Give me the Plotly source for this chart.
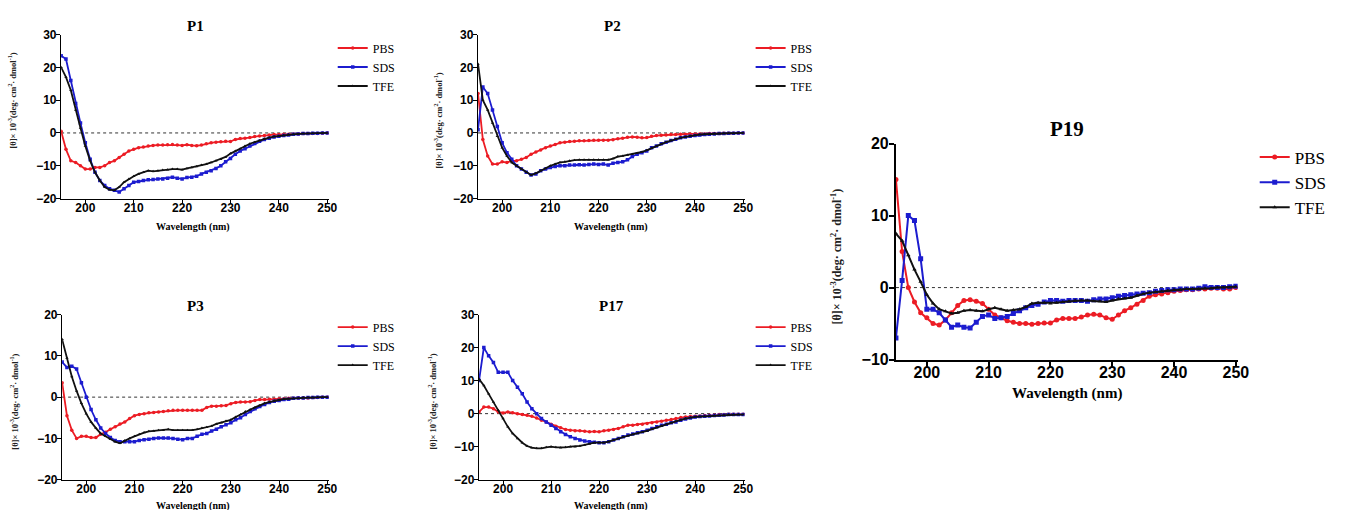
import plotly.graph_objects as go

W, H = 1355, 520
# the photographed picture maps page pixels as: pic_x = SX*x, pic_y = SY*y + DY
SX, SY, DY = 0.989, 0.967, 7.5

wavelength = list(range(195, 251))

# ---------------- P1 ----------------
p1_pbs = [0.5, -5, -8.5, -9, -10, -11, -11, -10.5, -10.5, -10, -9, -8.5, -7.5, -6.5, -5.5, -5,
          -4.5, -4.3, -4, -3.8, -3.7, -3.7, -3.6, -3.5, -3.7, -3.8, -3.6, -3.8, -3.9, -3.7, -3.3,
          -3, -2.8, -2.7, -2.5, -2.6, -2.0, -1.7, -1.6, -1.4, -1.1, -0.9, -0.8, -0.6, -0.5, -0.5,
          -0.4, -0.4, -0.3, -0.3, -0.2, -0.2, -0.2, -0.2, -0.1, 0]
p1_sds = [23.5, 22.5, 16, 9, 3, -3, -8, -12, -14.5, -16, -17, -17.5, -18, -17, -16, -15,
          -14.8, -14.5, -14.3, -14.2, -14, -14, -13.8, -13.5, -13.8, -14, -13.6, -13.5, -13.2,
          -12.5, -12, -11.5, -10.8, -10, -8.8, -7.8, -6.5, -5.5, -4.8, -4, -3.2, -2.5, -2, -1.6,
          -1.2, -1, -0.8, -0.6, -0.4, -0.3, -0.2, -0.2, -0.1, -0.1, 0, 0]
p1_tfe = [20, 17, 13, 7, 1.5, -4, -8.5, -12, -14.5, -16.5, -17.3, -17.5, -16.5, -15, -14, -13.2,
          -12.5, -12, -11.5, -11.7, -11.5, -11.3, -11.2, -11, -11, -11.2, -10.8, -10.5, -10.2,
          -9.8, -9.5, -9, -8.5, -8, -7.3, -6.3, -5.5, -4.8, -4, -3.3, -2.8, -2.3, -1.8, -1.4,
          -1.1, -0.9, -0.7, -0.5, -0.4, -0.3, -0.2, -0.2, -0.1, -0.1, 0, 0]

# ---------------- P2 ----------------
p2_pbs = [12, -2, -7, -9.5, -9.5, -8.8, -9, -8.5, -8.5, -8, -7.5, -6.5, -5.8, -5.2, -4.5, -4,
          -3.5, -3, -2.8, -2.6, -2.5, -2.4, -2.4, -2.3, -2.2, -2.2, -2.2, -2.2, -2.1, -1.8, -1.6,
          -1.3, -1.2, -1.3, -1.5, -1.4, -1.0, -0.8, -0.7, -0.6, -0.5, -0.5, -0.4, -0.4, -0.3,
          -0.3, -0.3, -0.3, -0.2, -0.2, -0.2, -0.1, -0.1, -0.1, 0, 0]
p2_sds = [1, 14, 12, 7, 2, -3, -6, -8, -10, -11, -12, -12.8, -12.5, -11.5, -11, -10.5, -10.2,
          -10, -10, -9.8, -9.8, -9.7, -9.8, -9.6, -9.5, -9.6, -9.5, -9.8, -9.2, -9.0, -8.8, -8.2,
          -7.2, -6.5, -6, -5.5, -4.5, -4, -3.3, -2.8, -2.3, -1.9, -1.5, -1.2, -1, -0.8, -0.6,
          -0.5, -0.4, -0.3, -0.2, -0.2, -0.1, -0.1, 0, 0]
p2_tfe = [21, 10, 7, 3, -1, -4.5, -7, -9, -10, -11, -12, -12.8, -12.3, -11.5, -10.8, -10, -9.5,
          -9, -8.8, -8.5, -8.3, -8.2, -8.2, -8.2, -8.2, -8.2, -8.2, -8.2, -7.8, -7.2, -7, -6.7,
          -6.5, -6.2, -5.8, -5.3, -4.6, -4, -3.4, -2.8, -2.3, -1.9, -1.5, -1.2, -0.9, -0.7,
          -0.5, -0.4, -0.3, -0.2, -0.2, -0.1, -0.1, -0.1, 0, 0]

# ---------------- P3 ----------------
p3_pbs = [3.5, -4.5, -8, -10, -9.5, -9.5, -9.8, -9.8, -9, -8.5, -7.8, -7.2, -6.5, -6, -5.2,
          -4.5, -4.2, -4, -3.8, -3.7, -3.6, -3.5, -3.3, -3.2, -3.2, -3.2, -3.2, -3.2, -3.2, -3.2,
          -2.5, -2.2, -2.2, -2.1, -2, -1.6, -1.3, -1.2, -1.2, -1.1, -0.8, -0.6, -0.6, -0.5,
          -0.5, -0.4, -0.4, -0.3, -0.3, -0.2, -0.2, -0.2, -0.1, -0.1, 0, 0]
p3_sds = [8.5, 7.2, 7.5, 6.8, 3.5, 0, -3, -5.5, -7.5, -8.8, -9.8, -10.5, -10.8, -10.8, -10.8,
          -10.8, -10.5, -10.3, -10.2, -10, -9.9, -9.9, -9.9, -10, -10.2, -10.3, -10, -10, -9.5,
          -9, -8.8, -8.2, -7.8, -7.2, -6.7, -6.2, -5.5, -5, -4.2, -3.5, -2.8, -2.3, -1.8, -1.3,
          -1, -0.8, -0.6, -0.5, -0.3, -0.2, -0.2, -0.1, -0.1, 0, 0, 0]
p3_tfe = [14, 9.5, 5, 1.5, -1.5, -4, -6, -7.5, -8.8, -9.5, -10.2, -10.8, -11.2, -10.5, -10,
          -9.5, -9, -8.6, -8.3, -8.2, -8, -8, -7.8, -8, -8, -8, -8, -8, -7.8, -7.5, -7.3, -7,
          -6.5, -6.2, -5.8, -5.5, -4.8, -4.2, -3.5, -3, -2.5, -2, -1.5, -1.2, -0.9, -0.7, -0.5,
          -0.4, -0.3, -0.2, -0.1, -0.1, -0.1, 0, 0, 0]

# ---------------- P17 ----------------
p17_pbs = [0.5, 2, 2, 1.5, 0.5, 0.2, 0.5, 0.3, 0, -0.3, -0.5, -0.8, -1.3, -2, -2.5, -3.2,
           -3.8, -4.3, -4.8, -5, -5.2, -5.2, -5.3, -5.5, -5.4, -5.5, -5.2, -5, -4.8, -4.5, -4,
           -3.5, -3.5, -3.3, -3.2, -3, -2.8, -2.5, -2.3, -2, -1.8, -1.5, -1.2, -1, -0.9, -0.8,
           -0.7, -0.6, -0.5, -0.4, -0.3, -0.3, -0.2, -0.2, -0.2, -0.2]
p17_sds = [10, 20, 17.5, 15.5, 12.5, 12.5, 12.5, 10, 8, 6, 3.5, 1.5, 0, -1.5, -2.5, -3.5, -4.5,
           -5.5, -6.3, -7, -7.5, -8, -8.3, -8.5, -8.7, -8.8, -8.8, -8.5, -8, -7.5, -7, -6.5,
           -6.2, -5.8, -5.5, -5, -4.5, -4, -3.5, -3.2, -2.8, -2.5, -2, -1.6, -1.3, -1, -0.9,
           -0.8, -0.7, -0.6, -0.5, -0.4, -0.3, -0.3, -0.3, -0.3]
p17_tfe = [10.5, 8.5, 6, 3.5, 1, -1.5, -4, -6, -7.5, -8.8, -9.8, -10.3, -10.5, -10.5, -10.2,
           -10, -10.2, -10.3, -10.2, -10, -10, -9.8, -9.5, -9.2, -8.8, -8.8, -8.8, -8.5, -8,
           -7.5, -7, -6.7, -6.3, -6, -5.6, -5.2, -4.7, -4.2, -3.7, -3.2, -2.8, -2.3, -1.9, -1.5,
           -1.2, -1, -0.9, -0.8, -0.7, -0.6, -0.5, -0.4, -0.3, -0.3, -0.3, -0.3]

# ---------------- P19 ----------------
p19_pbs = [15, 5, 0, -2, -3.5, -4.2, -5, -5.2, -4.5, -3.5, -2.5, -1.8, -1.7, -1.9, -2.2, -3,
           -3.8, -4.2, -4.6, -4.8, -5, -5, -5.1, -5, -4.9, -4.9, -4.5, -4.3, -4.3, -4.3, -4.1,
           -3.8, -3.7, -3.8, -4.2, -4.4, -3.8, -3.2, -2.8, -2.3, -1.8, -1.2, -1, -0.9, -0.7,
           -0.5, -0.4, -0.3, -0.3, -0.2, -0.2, -0.1, -0.1, -0.2, -0.2, 0]
p19_sds = [-7, 1, 10, 9.3, 4, -3, -3, -3.5, -4.5, -5.5, -5.2, -5.5, -5.6, -4.8, -4, -3.8,
           -4.3, -4.2, -4, -3.6, -3.2, -2.8, -2.5, -2.3, -2, -1.8, -1.8, -1.9, -1.8, -1.8, -1.8,
           -1.9, -1.7, -1.6, -1.6, -1.4, -1.2, -1.1, -1, -0.9, -0.8, -0.7, -0.5, -0.4, -0.3,
           -0.3, -0.2, -0.2, -0.2, -0.1, 0.1, 0, 0, 0, 0.1, 0.2]
p19_tfe = [7.5, 6.5, 4.5, 2.5, 0.8, -1, -2.2, -3, -3.3, -3.6, -3.5, -3.2, -3.1, -3.2, -3.3, -3,
           -2.8, -3, -3.2, -3.1, -3, -2.7, -2.2, -2.1, -2.1, -2.2, -2.1, -2, -1.9, -1.8, -1.8,
           -1.8, -1.9, -1.9, -2, -1.8, -1.6, -1.5, -1.4, -1.1, -0.9, -0.7, -0.6, -0.5, -0.4,
           -0.3, -0.3, -0.2, -0.2, -0.2, -0.1, -0.1, 0, 0, 0, 0.1]

series_names = ["PBS", "SDS", "TFE"]
colors = {"PBS": "#ec1c24", "SDS": "#1c1ccf", "TFE": "#111111"}
symbols = {"PBS": "circle", "SDS": "square", "TFE": "triangle-up"}

# panel geometry in picture pixels: (x0, x1, y0_top, y1_bottom)
panels = [
    dict(name="P1", data=[p1_pbs, p1_sds, p1_tfe], box=(61, 328, 34, 198), yr=[-20, 30],
         big=False, leg=(332, 33), ytitle=(13, 100), title=(195, 25), xt=(193, 226)),
    dict(name="P2", data=[p2_pbs, p2_sds, p2_tfe], box=(477, 743, 34, 198), yr=[-20, 30],
         big=False, leg=(749, 33), ytitle=(438, 120), title=(611, 25), xt=(610, 226)),
    dict(name="P3", data=[p3_pbs, p3_sds, p3_tfe], box=(62, 328, 314, 479), yr=[-20, 20],
         big=False, leg=(332, 312), ytitle=(15, 401), title=(195, 305), xt=(193, 505)),
    dict(name="P17", data=[p17_pbs, p17_sds, p17_tfe], box=(478, 743, 314, 479), yr=[-20, 30],
         big=False, leg=(749, 312), ytitle=(432, 401), title=(610, 305), xt=(610, 505)),
    dict(name="P19", data=[p19_pbs, p19_sds, p19_tfe], box=(894, 1235, 143, 359), yr=[-10, 20],
         big=True, leg=(1252, 139), ytitle=(835, 256), title=(1065, 128), xt=(1065, 393)),
]


def px(x):
    return (x / SX) / W


def py(y):
    return 1 - ((y - DY) / SY) / H


serif = "Liberation Serif"
sans = "Liberation Sans"

fig = go.Figure()
layout = dict(width=W, height=H, margin=dict(l=0, r=0, t=0, b=0),
              paper_bgcolor="white", plot_bgcolor="white", showlegend=True)
annotations = []
shapes = []

ytitle_text = "[θ]× 10<sup>-3</sup>(deg· cm<sup>2</sup>· dmol<sup>-1</sup>)"

for i, p in enumerate(panels):
    k = "" if i == 0 else str(i + 1)
    x0, x1, y0, y1 = p["box"]
    big = p["big"]
    lw = 2 if big else 1.4
    tick_size = 16 if big else 12
    layout["xaxis" + k] = dict(
        domain=[px(x0), px(x1)], range=[195, 250.3], anchor="y" + k,
        tickvals=[200, 210, 220, 230, 240, 250], showline=True, linecolor="black",
        linewidth=lw, ticks="outside", ticklen=5 if big else 4, tickwidth=lw, tickcolor="black",
        showgrid=False, zeroline=False, ticklabelstandoff=-8 if big else -6,
        tickfont=dict(family=sans, size=tick_size, color="black", weight="bold"))
    layout["yaxis" + k] = dict(
        domain=[py(y1), py(y0)], range=p["yr"], anchor="x" + k,
        dtick=10, showline=True, linecolor="black", linewidth=lw, ticks="outside",
        ticklen=5 if big else 4, tickwidth=lw, tickcolor="black", showgrid=False,
        zeroline=False, ticklabelstandoff=-3,
        tickfont=dict(family=sans, size=tick_size, color="black", weight="bold"))
    legname = "legend" + k
    layout[legname] = dict(x=px(p["leg"][0]), y=py(p["leg"][1]), xanchor="left",
                           yanchor="top", bgcolor="rgba(0,0,0,0)",
                           font=dict(family=serif, size=17 if big else 12, color="black"),
                           itemwidth=30, tracegroupgap=0)
    for name, vals in zip(series_names, p["data"]):
        fig.add_trace(go.Scatter(
            x=wavelength, y=vals, mode="lines+markers", name=name,
            xaxis="x" + k, yaxis="y" + k, legend=legname,
            line=dict(color=colors[name], width=2 if big else 1.8),
            marker=dict(symbol=symbols[name], color=colors[name],
                        size=(5 if big else 3.5) if name != "TFE" else (4 if big else 3))))
    # dotted zero reference line
    shapes.append(dict(type="line", xref="x" + k + " domain", yref="y" + k, x0=0, x1=1,
                       y0=0, y1=0, line=dict(color="#333333", width=1, dash="dot"),
                       layer="below"))
    annotations.append(dict(text="<b>%s</b>" % p["name"], x=px(p["title"][0]),
                            y=py(p["title"][1]), xref="paper", yref="paper",
                            showarrow=False, xanchor="center", yanchor="middle",
                            font=dict(family=serif, size=21 if big else 15, color="black")))
    annotations.append(dict(text="<b>Wavelength (nm)</b>", x=px(p["xt"][0]),
                            y=py(p["xt"][1]), xref="paper", yref="paper",
                            showarrow=False, xanchor="center", yanchor="middle",
                            font=dict(family=serif, size=15 if big else 10, color="black")))
    annotations.append(dict(text="<b>%s</b>" % ytitle_text, x=px(p["ytitle"][0]),
                            y=py(p["ytitle"][1]), xref="paper", yref="paper",
                            showarrow=False, xanchor="center", yanchor="middle", textangle=-90,
                            font=dict(family=serif, size=12 if big else 8.5, color="#222222")))

layout["annotations"] = annotations
layout["shapes"] = shapes
fig.update_layout(**layout)
fig.write_html("out.html")
